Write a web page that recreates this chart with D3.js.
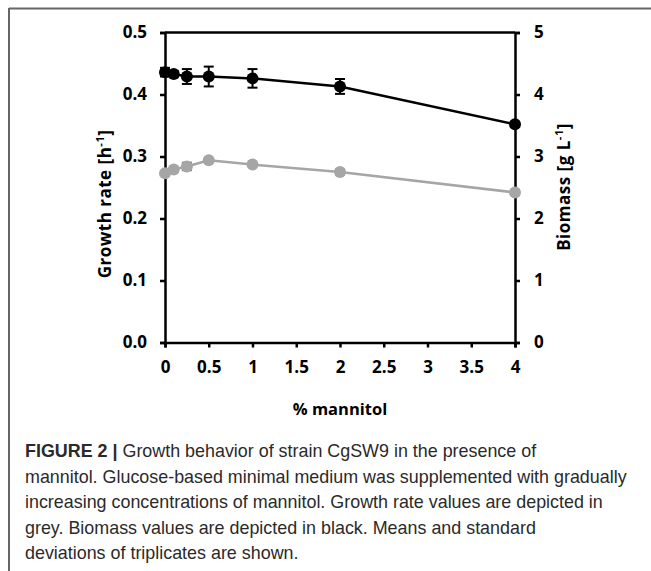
<!DOCTYPE html>
<html>
<head>
<meta charset="utf-8">
<script src="https://cdn.jsdelivr.net/npm/d3@7"></script>
<style>
  body { margin: 0; background: #fff; }
  svg { display: block; }
</style>
</head>
<body>
<svg id="chart" width="651" height="571"></svg>
<script>
// data
const mannitol = [0, 0.1, 0.25, 0.5, 1, 2, 4];
const growthRate = [0.273, 0.279, 0.284, 0.294, 0.287, 0.275, 0.242];
const growthErr = [0.002, 0.002, 0.006, 0.002, 0.002, 0.004, 0.002];
const biomass = [4.36, 4.33, 4.29, 4.29, 4.26, 4.13, 3.52];
const biomassErr = [0.07, 0.05, 0.12, 0.16, 0.15, 0.12, 0.04];
const xTicks = [0, 0.5, 1, 1.5, 2, 2.5, 3, 3.5, 4];
const leftTicks = [0, 0.1, 0.2, 0.3, 0.4, 0.5];
const rightTicks = [0, 1, 2, 3, 4, 5];

const caption = [
    ["FIGURE 2 | ", "Growth behavior of strain CgSW9 in the presence of"],
    ["", "mannitol. Glucose-based minimal medium was supplemented with gradually"],
    ["", "increasing concentrations of mannitol. Growth rate values are depicted in"],
    ["", "grey. Biomass values are depicted in black. Means and standard"],
    ["", "deviations of triplicates are shown."]
];

const svg = d3.select('#chart');
const font = '"Open Sans", "DejaVu Sans", sans-serif';

// frame lines
svg.append('line').attr('x1', 9).attr('x2', 651).attr('y1', 8.5).attr('y2', 8.5)
    .attr('stroke', '#666').attr('stroke-width', 2);
svg.append('line').attr('x1', 9).attr('x2', 9).attr('y1', 8).attr('y2', 571)
    .attr('stroke', '#666').attr('stroke-width', 2);

const x = d3.scaleLinear().domain([0, 4]).range([165, 515]);
const yL = d3.scaleLinear().domain([0, 0.5]).range([342.5, 32.5]);
const yR = d3.scaleLinear().domain([0, 5]).range([342.5, 32.5]);

function styleAxis(g) {
    g.select('.domain').attr('stroke', '#000').attr('stroke-width', 2.5);
    g.selectAll('.tick line').attr('stroke', '#000').attr('stroke-width', 2.5);
    g.selectAll('.tick text').attr('font-family', font).attr('font-weight', 700)
        .attr('font-size', 17).attr('fill', '#000');
}

// top border of plot
svg.append('line').attr('x1', x(0)).attr('x2', x(4)).attr('y1', yL(0.5)).attr('y2', yL(0.5))
    .attr('stroke', '#000').attr('stroke-width', 2.5);

svg.append('g').attr('transform', `translate(0,${yL(0)})`)
    .call(d3.axisBottom(x).tickValues(xTicks).tickSize(5).tickPadding(13).tickFormat(d3.format('')))
    .call(styleAxis);

svg.append('g').attr('transform', `translate(${x(0)},0)`)
    .call(d3.axisLeft(yL).tickValues(leftTicks).tickSize(5).tickPadding(13).tickFormat(d3.format('.1f')))
    .call(styleAxis);

svg.append('g').attr('transform', `translate(${x(4)},0)`)
    .call(d3.axisRight(yR).tickValues(rightTicks).tickSize(5).tickPadding(14).tickFormat(d3.format('d')))
    .call(styleAxis);

// axis titles
svg.append('text').attr('x', 340).attr('y', 415).attr('text-anchor', 'middle')
    .attr('font-family', font).attr('font-weight', 700).attr('font-size', 16.5)
    .text('% mannitol');

const lt = svg.append('text').attr('transform', 'translate(111,204) rotate(-90)')
    .attr('text-anchor', 'middle').attr('font-family', font).attr('font-weight', 700)
    .attr('font-size', 17).attr('letter-spacing', 0.5);
lt.append('tspan').text('Growth rate [h');
lt.append('tspan').attr('font-size', 11).attr('dy', -7).text('-1');
lt.append('tspan').attr('dy', 7).text(']');

const rt = svg.append('text').attr('transform', 'translate(570,187) rotate(-90)')
    .attr('text-anchor', 'middle').attr('font-family', font).attr('font-weight', 700)
    .attr('font-size', 17).attr('letter-spacing', 0.5);
rt.append('tspan').text('Biomass [g L');
rt.append('tspan').attr('font-size', 11).attr('dy', -7).text('-1');
rt.append('tspan').attr('dy', 7).text(']');

// series
function drawSeries(vals, errs, y, color, errColor, r) {
    const pts = mannitol.map((m, i) => ({ m, v: vals[i], e: errs[i] }));
    const g = svg.append('g');
    g.append('path').datum(pts)
        .attr('fill', 'none').attr('stroke', color).attr('stroke-width', 2.5)
        .attr('d', d3.line().x(d => x(d.m)).y(d => y(d.v)));
    const eb = g.selectAll('.eb').data(pts).join('g').attr('stroke', errColor).attr('stroke-width', 2);
    eb.append('line').attr('x1', d => x(d.m)).attr('x2', d => x(d.m))
        .attr('y1', d => y(d.v - d.e)).attr('y2', d => y(d.v + d.e));
    eb.append('line').attr('x1', d => x(d.m) - 5).attr('x2', d => x(d.m) + 5)
        .attr('y1', d => y(d.v - d.e)).attr('y2', d => y(d.v - d.e));
    eb.append('line').attr('x1', d => x(d.m) - 5).attr('x2', d => x(d.m) + 5)
        .attr('y1', d => y(d.v + d.e)).attr('y2', d => y(d.v + d.e));
    g.selectAll('circle').data(pts).join('circle')
        .attr('cx', d => x(d.m)).attr('cy', d => y(d.v)).attr('r', r)
        .attr('fill', color);
}

drawSeries(growthRate, growthErr, yL, '#a6a6a6', '#555', 6);
drawSeries(biomass, biomassErr, yR, '#000', '#000', 6);

// caption, sized so the longest line spans like the reference
const cap = svg.append('g').attr('font-family', '"Liberation Sans", Arial, sans-serif')
    .attr('font-size', 17).attr('fill', '#2a2a2a');
const capLines = caption.map((line, i) => {
    const t = cap.append('text').attr('x', 25).attr('y', 457 + i * 25.5);
    if (line[0]) t.append('tspan').attr('font-weight', 700).text(line[0]);
    t.append('tspan').text(line[1]);
    return t;
});
const widest = d3.max(capLines, t => t.node().getComputedTextLength());
cap.attr('font-size', 17 * 602 / widest);
</script>
</body>
</html>
